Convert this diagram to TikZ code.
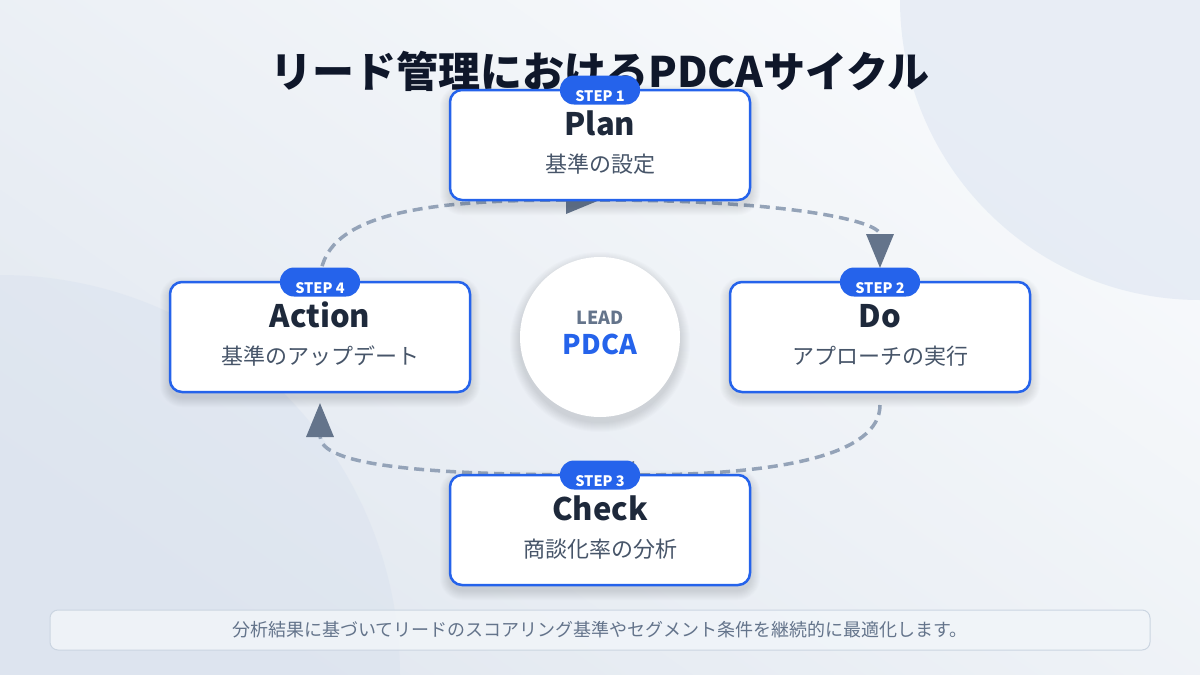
\documentclass[tikz,border=0pt]{standalone}
\usepackage{fontspec}
\setmainfont{Noto Sans CJK JP}
\usetikzlibrary{arrows.meta,calc}

\definecolor{bgA}{HTML}{F8FAFC}
\definecolor{bgB}{HTML}{E2E8F0}
\definecolor{blob}{HTML}{D5DFEE}
\definecolor{brand}{HTML}{2563EB}
\definecolor{ink}{HTML}{0F172A}
\definecolor{ink2}{HTML}{1E293B}
\definecolor{subtxt}{HTML}{475569}
\definecolor{muted}{HTML}{64748B}
\definecolor{flowline}{HTML}{94A3B8}
\definecolor{barfill}{HTML}{F1F5F9}
\definecolor{barline}{HTML}{CBD5E1}
\definecolor{shadowc}{HTML}{334155}

\tikzset{
  stepbox/.style={draw=brand, line width=2.5pt, fill=white, rounded corners=12pt,
    minimum width=300pt, minimum height=110pt, inner sep=0pt},
  pill/.style={fill=brand, rounded corners=14pt, minimum width=80pt, minimum height=29pt, inner sep=0pt},
  pilltext/.style={text=white, font=\fontsize{14.5}{16}\selectfont\bfseries, anchor=base, inner sep=0pt},
  headtext/.style={text=ink2, font=\fontsize{31}{34}\selectfont\bfseries, anchor=base, inner sep=0pt},
  subtext/.style={text=subtxt, font=\fontsize{22}{26}\selectfont, anchor=base, inner sep=0pt},
  flow/.style={draw=flowline, line width=3.5pt, dash pattern=on 10pt off 6pt,
    -{Triangle[width=27pt,length=34pt,color=muted]}},
  softshade/.style={fill=shadowc, opacity=0.014},
}

\begin{document}
\begin{tikzpicture}[x=1pt,y=-1pt]
\useasboundingbox (0,0) rectangle (1200,675);
\begin{scope}
  \clip (0,0) rectangle (1200,675);
  \shade[top color=bgA, bottom color=bgB, shading angle=-35] (0,0) rectangle (1200,675);
  \fill[blob, opacity=0.45] (1200,0) circle (300pt);
  \fill[blob, opacity=0.35] (0,675) circle (400pt);
\end{scope}

% title
\node[text=ink, font=\fontsize{42}{48}\selectfont\bfseries, anchor=base, inner sep=0pt] (title) at (600,87) {リード管理におけるPDCAサイクル};

% step box positions
\coordinate (planC) at (600,145);
\coordinate (doC) at (880,337);
\coordinate (checkC) at (600,530);
\coordinate (actionC) at (320,337);

% invisible anchors for routing
\node[minimum width=300pt, minimum height=110pt, inner sep=0pt, outer sep=0pt] (plan) at (planC) {};
\node[minimum width=300pt, minimum height=110pt, inner sep=0pt, outer sep=0pt] (do) at (doC) {};
\node[minimum width=300pt, minimum height=110pt, inner sep=0pt, outer sep=0pt] (check) at (checkC) {};
\node[minimum width=300pt, minimum height=110pt, inner sep=0pt, outer sep=0pt] (action) at (actionC) {};

\coordinate (dIn) at ($(do.north)+(0,-14)$);
\coordinate (dOut) at ($(do.south)+(0,13)$);
\coordinate (aIn) at ($(action.south)+(0,11)$);

% connectors
\draw[flow] (plan.south) .. controls +(180,0) and +(0,-48) .. (dIn);
\draw[flow] (dOut) .. controls +(0,50) and +(180,0) .. (check.north);
\draw[flow] (check.north) .. controls +(-180,0) and +(0,62) .. (aIn);
\draw[flow] (action.north) .. controls +(0,-67) and +(-180,0) .. (plan.south);

% soft shadows
\foreach \n in {plan,do,check,action}{
  \foreach \k in {1,...,10}{
    \fill[softshade, rounded corners=12pt+\k pt]
      ($(\n.south west)+(-\k,\k+5)$) rectangle ($(\n.north east)+(\k,-\k+5)$);
  }
}
\foreach \k in {1,...,10}{
  \fill[softshade] (600,342) circle ({80pt+\k pt});
}

% center circle
\node[circle, fill=white, minimum size=160pt, inner sep=0pt] (hub) at (600,337) {};
\node[text=muted, font=\fontsize{18}{20}\selectfont\bfseries, anchor=base, inner sep=0pt] (hubA) at (600,324) {LEAD};
\node[text=brand, font=\fontsize{27}{30}\selectfont\bfseries, anchor=base, inner sep=0pt] (hubB) at (600,354) {PDCA};

% boxes
\node[stepbox] (planbox) at (planC) {};
\node[stepbox] (dobox) at (doC) {};
\node[stepbox] (checkbox) at (checkC) {};
\node[stepbox] (actionbox) at (actionC) {};

% Plan
\node[pill] (p1) at (plan.north) {};
\node[pilltext] (p1t) at ($(plan.north)+(0,11)$) {STEP 1};
\node[headtext] (p1h) at ($(plan.north)+(0,45)$) {Plan};
\node[subtext] (p1s) at ($(plan.north)+(0,82)$) {基準の設定};

% Do
\node[pill] (p2) at (do.north) {};
\node[pilltext] (p2t) at ($(do.north)+(0,11)$) {STEP 2};
\node[headtext] (p2h) at ($(do.north)+(0,45)$) {Do};
\node[subtext] (p2s) at ($(do.north)+(0,82)$) {アプローチの実行};

% Check
\node[pill] (p3) at (check.north) {};
\node[pilltext] (p3t) at ($(check.north)+(0,11)$) {STEP 3};
\node[headtext] (p3h) at ($(check.north)+(0,45)$) {Check};
\node[subtext] (p3s) at ($(check.north)+(0,82)$) {商談化率の分析};

% Action
\node[pill] (p4) at (action.north) {};
\node[pilltext] (p4t) at ($(action.north)+(0,11)$) {STEP 4};
\node[headtext] (p4h) at ($(action.north)+(0,45)$) {Action};
\node[subtext] (p4s) at ($(action.north)+(0,82)$) {基準のアップデート};

% bottom bar
\node[draw=barline, fill=barfill, fill opacity=0.85, line width=1pt, rounded corners=8pt,
  minimum width=1100pt, minimum height=40pt, inner sep=0pt] (bar) at (600,630) {};
\node[text=muted, font=\fontsize{18}{20}\selectfont, inner sep=0pt] (bart) at (600,630) {分析結果に基づいてリードのスコアリング基準やセグメント条件を継続的に最適化します。};
\end{tikzpicture}
\end{document}
